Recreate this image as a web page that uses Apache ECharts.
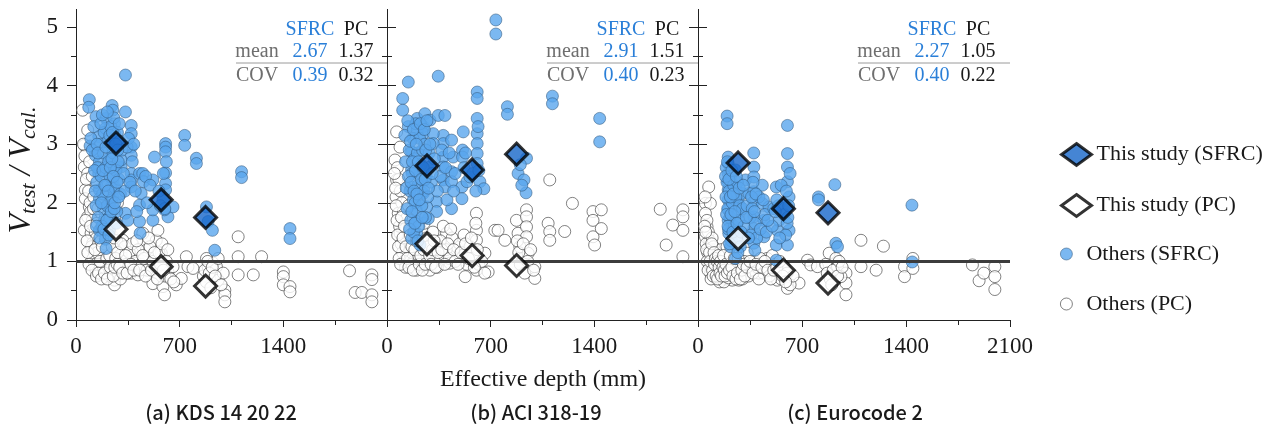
<!DOCTYPE html>
<html>
<head>
<meta charset="utf-8">
<script src="https://cdn.jsdelivr.net/npm/echarts@6/dist/echarts.min.js"></script>
<style>
  html, body { margin: 0; padding: 0; background: #fff; }
  #chart { width: 1277px; height: 436px; }
</style>
</head>
<body>
<div id="chart"></div>
<script>
// effective depth (mm) of this study's specimens
var studyDepth = [270, 575, 875];

// V_test / V_cal. for this study
var kdsStudySFRC = [3.02, 2.05, 1.75];
var kdsStudyPC = [1.55, 0.91, 0.58];
var aciStudySFRC = [2.63, 2.56, 2.83];
var aciStudyPC = [1.30, 1.10, 0.93];
var ecStudySFRC = [2.68, 1.90, 1.83];
var ecStudyPC = [1.39, 0.85, 0.63];

// other researchers' data [depth, ratio]
var kdsOthersSFRC = [
  [90,3.76],[86,3.63],[135,3.47],[154,3.13],[95,2.97],[131,2.81],[158,2.70],[154,2.50],[158,2.22],[158,2.07],
  [185,1.90],[158,1.53],[199,1.38],[203,1.22],[203,3.44],[199,3.27],[244,3.66],[248,3.58],[260,3.35],[260,3.18],
  [244,2.95],[226,2.76],[260,2.61],[248,2.39],[237,2.27],[248,2.10],[230,1.93],[226,1.76],[226,1.53],[192,1.70],
  [334,4.18],[334,3.55],[373,3.32],[373,3.18],[373,2.95],[373,2.81],[373,2.50],[373,2.39],[373,2.27],[334,1.82],
  [350,1.70],[305,2.61],[305,2.73],[429,2.50],[440,2.16],[429,1.96],[429,1.68],[433,1.48],[451,2.50],[456,2.36],
  [519,2.39],[530,2.78],[519,1.70],[519,1.88],[605,3.01],[605,2.95],[605,2.87],[605,2.51],[605,2.33],[605,2.22],
  [587,2.05],[621,1.76],[655,1.93],[598,1.88],[734,3.15],[734,2.98],[813,2.76],[813,2.67],[881,1.93],[892,1.68],
  [921,1.53],[937,1.19],[1118,2.53],[1118,2.43],[1445,1.56],[1445,1.39],
  [140,2.35],[145,2.60],[150,1.75],[165,3.00],[170,2.45],[175,1.60],[180,2.15],[185,2.85],[190,3.20],[200,2.60],
  [205,2.30],[210,1.95],[215,3.05],[220,2.70],[230,2.45],[235,3.30],[240,2.05],[250,2.85],[255,3.45],[265,2.25],
  [270,2.55],[275,1.85],[280,3.20],[285,2.70],[290,2.40],[295,3.05],[300,2.15],[310,2.90],[320,2.50],[330,2.20],
  [345,2.95],[355,3.10],[365,2.35],[380,2.70],[390,3.00],[400,2.20],[410,1.85],[470,2.45],[480,2.00],[500,2.30],
  [560,2.20],[570,1.95],[590,2.50],[600,1.90],[610,2.70],
  [100,3.10],[110,2.90],[120,3.30],[125,2.55],[130,2.20],[135,1.95],[138,1.60],[142,3.00],[148,2.85],[160,1.40],
  [168,3.35],[172,2.00],[178,3.50],[182,2.55],[188,1.55],[195,2.30],[202,2.95],[208,1.70],[212,3.55],[218,2.20],
  [222,1.45],[228,3.15],[232,2.60],[238,1.85],[242,2.75],[246,3.20],[252,2.45],[258,1.90],[262,2.00],[268,3.00],
  [272,1.65],[278,2.35],[282,2.90],[288,2.10],[292,3.35]
];
var kdsOthersPC = [
  [45,3.58],[79,3.24],[56,2.98],[56,2.61],[79,2.50],[63,2.22],[63,2.07],[56,1.53],[79,1.76],[90,1.93],
  [102,1.48],[113,1.31],[124,1.14],[135,1.02],[158,1.48],[158,1.25],[181,1.08],[203,0.91],[237,0.80],[260,0.68],
  [260,0.60],[293,1.02],[316,1.36],[350,0.80],[373,0.80],[384,1.14],[406,0.97],[418,0.77],[451,1.48],[474,1.19],
  [485,0.91],[519,0.62],[542,1.36],[553,1.53],[576,1.14],[587,0.57],[598,0.43],[621,0.82],[655,0.91],[677,0.60],
  [711,0.71],[745,1.08],[756,0.91],[790,0.88],[881,1.05],[892,0.91],[903,0.71],[926,0.97],[948,0.91],[960,0.68],
  [994,0.80],[1005,0.51],[1005,0.43],[1005,0.31],[1095,1.42],[1095,1.08],[1095,0.77],[1197,0.77],[1253,1.08],
  [1400,0.82],[1400,0.74],[1400,0.60],[1445,0.57],[1445,0.48],[1847,0.84],[1885,0.47],[1930,0.47],[1998,0.77],
  [1998,0.69],[1998,0.43],[1998,0.31],
  [70,2.40],[85,2.20],[95,2.00],[100,1.85],[110,1.70],[120,1.60],[130,1.50],[140,1.40],[150,1.30],[160,1.20],
  [170,1.10],[180,1.00],[190,0.95],[200,1.05],[210,1.15],[220,1.25],[230,1.35],[240,1.45],[250,1.60],[260,1.75],
  [270,1.90],[280,2.00],[290,1.20],[300,1.10],[310,0.90],[140,2.30],[150,2.50],[160,2.60],[120,2.10],[110,2.45],
  [105,1.25],[115,1.05],[125,0.95],[135,0.85],[145,1.15],[155,0.95],[165,1.60],[175,1.80],[185,1.45],[195,1.30],
  [205,0.85],[215,1.55],[225,0.75],[240,0.90],[255,1.00],[265,1.20],[275,1.35],[285,0.80],[300,0.70],[320,1.00],
  [330,1.25],[340,0.95],[360,1.15],[380,1.30],[400,1.00],[420,1.20],[440,0.95],[460,1.05],[480,0.85],[500,1.25],
  [520,1.00],[540,0.90],[560,1.15],[580,1.30],[600,0.75],[610,1.00],[620,1.20],[640,0.70],[660,0.65],
  [860,0.75],[870,0.85],[880,0.65],[890,1.00],[900,0.80],[910,0.55],[920,0.90],[940,0.75],[960,1.05],[980,0.60],
  [50,3.00],[60,2.80],[65,1.70],[75,1.35],[80,1.15],[88,0.95],[92,2.70],[98,1.60],[108,0.85],[118,1.90],
  [128,1.20],[138,0.75],[142,1.65],[148,1.90],[152,0.80],[162,1.00],[168,1.35],[172,0.70],[178,1.25],[182,1.60],
  [188,2.00],[192,0.80],[198,1.75],[208,1.05],[212,0.70],[218,1.95],[228,1.10],[232,0.90],[238,1.65],[245,1.25],
  [252,0.75],[258,1.40],[262,0.90],[268,1.05],[278,0.95],[282,1.15],[288,1.55],[295,0.90],[305,1.30],[315,0.80],
  [335,1.10],[345,0.80],[370,0.95],[390,0.85],[410,1.35],[430,0.85],[450,1.10],[470,0.75],[490,1.40],[510,0.85],
  [530,1.15],[550,0.70],[570,0.95],[590,0.85]
];

var aciOthersSFRC = [
  [144,4.06],[106,3.78],[106,3.58],[144,3.30],[204,3.44],[256,3.52],[245,3.30],[204,3.24],[245,3.18],[290,3.41],
  [346,4.16],[346,3.49],[391,3.49],[380,3.15],[380,3.01],[380,2.78],[380,2.61],[380,2.39],[391,2.27],[436,3.07],
  [447,2.78],[436,2.53],[436,2.36],[436,1.90],[335,2.02],[335,1.85],[166,2.87],[166,2.56],[166,2.27],[178,2.05],
  [200,1.88],[200,1.68],[200,1.48],[166,1.39],[223,1.28],[223,2.50],[245,2.36],[245,2.16],[268,1.93],[279,1.73],
  [312,3.18],[312,3.01],[290,2.61],[515,3.21],[510,2.90],[510,2.78],[506,2.27],[506,2.07],[540,2.36],[560,2.44],
  [609,3.89],[609,3.78],[609,3.44],[609,3.18],[609,3.01],[609,2.84],[609,2.67],[627,2.36],[654,2.24],[735,5.12],
  [735,4.88],[813,3.64],[813,3.51],[942,2.76],[885,2.50],[925,2.39],[939,2.17],[1117,3.82],[1117,3.69],[1436,3.44],
  [1436,3.04],
  [150,2.90],[155,2.20],[160,1.70],[170,2.50],[175,3.10],[180,1.50],[185,2.75],[190,2.00],[195,3.35],[205,2.85],
  [210,2.30],[215,1.60],[220,3.10],[230,2.65],[235,1.95],[240,2.90],[250,2.20],[255,3.00],[260,1.75],[265,2.45],
  [275,2.10],[285,2.85],[300,2.35],[320,2.75],[340,2.20],[360,2.45],[370,2.90],[395,2.60],[405,2.05],[420,2.85],
  [450,2.20],[460,2.50],[520,2.60],[530,2.85],[580,2.50],[600,2.20],[615,3.30],[620,2.55],[900,2.65],[910,2.30],
  [120,3.15],[125,2.70],[130,2.25],[135,1.90],[140,3.40],[145,2.45],[152,1.55],[158,3.05],[162,2.35],[168,1.85],
  [172,2.70],[178,3.25],[182,2.20],[188,1.65],[192,2.55],[198,3.00],[202,2.15],[208,1.35],[212,2.70],[218,2.05],
  [225,3.35],[232,2.40],[238,1.75],[245,2.60],[252,3.25],[258,2.40],[262,2.90],[270,3.40],[280,2.25],[290,3.00],
  [305,2.50]
];
var aciOthersPC = [
  [65,3.21],[88,2.95],[54,2.73],[65,2.39],[61,2.10],[76,1.82],[88,1.48],[110,1.25],[133,1.08],[166,0.97],
  [223,0.91],[268,0.97],[312,1.14],[357,1.02],[425,0.97],[402,1.48],[470,1.25],[528,1.14],[528,0.74],[604,1.82],
  [604,1.53],[604,1.36],[604,0.85],[661,1.14],[683,0.82],[728,1.53],[750,1.53],[796,1.36],[874,1.70],[885,1.48],
  [897,1.25],[919,1.05],[942,1.88],[942,1.76],[942,1.59],[942,1.42],[953,1.14],[998,0.71],[998,0.91],[1088,1.65],
  [1099,1.51],[1099,1.36],[1099,2.39],[1200,1.51],[1252,1.99],[1391,1.85],[1391,1.70],[1391,1.42],[1402,1.28],
  [1447,1.88],[1447,1.56],[1845,1.89],[1885,1.28],[1930,1.62],[1998,1.88],[1998,1.76],[1998,1.53],[1998,1.08],
  [70,2.60],[80,2.40],[90,2.20],[100,2.00],[110,1.85],[120,1.70],[130,1.55],[140,1.40],[150,1.30],[160,1.20],
  [170,1.10],[180,1.00],[190,0.90],[200,0.85],[210,1.05],[220,1.20],[230,1.35],[240,1.50],[250,1.65],[260,1.25],
  [270,1.10],[280,0.95],[290,0.85],[300,1.30],[310,1.50],[320,1.00],[330,1.20],[340,0.90],[85,1.60],[95,1.30],
  [105,1.15],[115,1.00],[125,0.90],[135,1.75],[145,1.95],[155,1.60],[165,0.95],[175,1.45],[360,1.35],[380,1.60],
  [400,1.20],[420,1.05],[440,1.40],[460,1.00],[490,1.30],[520,1.45],[540,0.95],[560,1.25],[580,1.05],[600,1.65],
  [610,1.20],[620,0.95],[640,1.00],[660,0.80],[880,1.35],[890,1.15],[900,0.95],[920,1.30],[930,0.80],[950,1.00],
  [970,1.20],[990,0.85],
  [50,2.50],[58,2.25],[62,1.95],[68,1.70],[72,1.45],[78,1.25],[82,1.05],[92,0.95],[98,1.75],[108,1.40],
  [118,1.60],[128,1.25],[138,1.05],[148,0.90],[158,1.45],[168,1.25],[178,0.85],[188,1.20],[198,1.35],[208,1.60],
  [218,0.95],[228,1.10],[238,0.85],[248,1.20],[258,0.95],[268,1.40],[278,1.25],[288,1.10],[298,0.95],[308,1.20],
  [318,1.35],[328,0.90],[345,1.15],[370,1.20],[390,0.95],[410,1.30],[430,1.55],[450,1.20],[480,0.95],[500,1.15],
  [530,1.30],[550,1.05],[570,1.40],[590,0.90]
];

var ecOthersSFRC = [
  [196,3.48],[196,3.35],[203,2.78],[203,2.67],[203,2.50],[203,2.36],[203,2.22],[203,2.05],[203,1.88],[203,1.70],
  [207,1.48],[219,1.25],[252,1.05],[252,2.56],[252,2.27],[241,1.99],[270,2.05],[270,1.82],[297,2.16],[320,2.39],
  [342,2.16],[376,2.61],[376,2.44],[376,2.19],[376,2.02],[376,1.76],[376,1.56],[376,1.31],[383,1.19],[433,2.30],
  [433,1.99],[444,1.70],[444,1.42],[478,1.93],[527,2.27],[534,1.53],[527,1.28],[527,1.02],[545,1.70],[602,3.32],
  [602,2.84],[602,2.61],[602,2.36],[613,2.10],[613,1.53],[602,1.28],[811,2.10],[811,2.05],[921,2.31],[928,1.31],
  [939,1.25],[1440,1.96],[1442,0.99],
  [190,2.60],[195,2.35],[200,1.90],[205,1.55],[210,2.20],[215,1.75],[220,2.45],[225,1.35],[230,2.00],[240,2.30],
  [245,1.60],[255,2.10],[260,1.40],[265,2.35],[275,1.70],[280,1.95],[285,1.25],[300,1.90],[310,1.60],[330,1.95],
  [350,1.75],[355,1.45],[365,1.90],[370,2.35],[385,1.65],[395,1.40],[410,2.10],[420,1.55],[450,1.80],[460,1.50],
  [500,1.60],[510,1.90],[540,1.95],[560,2.30],[580,1.80],[590,1.45],[600,1.65],[610,1.95],[620,2.50],
  [185,2.45],[188,2.10],[192,1.80],[198,2.70],[202,1.60],[208,2.40],[212,1.30],[218,2.10],[222,1.80],[228,2.55],
  [235,1.50],[238,2.15],[248,1.85],[258,2.45],[262,1.65],[268,1.15],[278,2.25],[290,1.50],[305,2.30],[325,1.75],
  [340,1.40],[360,2.10],[375,2.85],[380,1.85],[390,2.15],[440,2.05],[470,1.70],[520,1.85],[530,2.05],[550,1.40],
  [595,2.20],[605,1.75]
];
var ecOthersPC = [
  [72,2.27],[50,1.99],[83,1.99],[50,1.82],[61,1.59],[50,1.42],[72,1.25],[95,1.08],[106,0.91],[117,0.80],
  [140,0.97],[162,0.74],[185,0.85],[230,0.68],[275,0.68],[297,0.85],[331,1.14],[354,0.91],[410,0.80],[433,1.76],
  [466,1.05],[500,0.97],[523,0.80],[534,0.68],[602,0.54],[680,0.63],[737,1.02],[759,0.94],[804,0.91],[883,1.14],
  [928,1.05],[939,0.91],[996,0.80],[996,0.63],[996,0.43],[962,0.74],[1097,1.36],[1097,0.91],[1199,0.85],[1248,1.26],
  [1390,0.91],[1390,0.74],[1446,1.05],[1446,0.88],[1847,0.94],[1892,0.67],[1924,0.80],[1998,0.91],[1998,0.74],
  [1998,0.52],
  [60,1.70],[70,1.50],[80,1.35],[90,1.20],[100,1.10],[110,1.00],[120,0.90],[130,0.85],[140,0.75],[150,0.70],
  [160,0.95],[170,1.05],[180,0.80],[190,0.70],[200,0.90],[210,1.00],[220,0.75],[240,0.95],[250,0.85],[260,1.00],
  [280,0.80],[290,0.95],[300,0.70],[310,1.00],[320,0.85],[340,0.75],[45,1.60],[55,1.30],[65,1.15],[75,0.95],
  [85,0.80],[95,1.40],[105,1.25],[115,0.72],[125,1.15],[135,0.95],[145,0.65],[155,1.20],[165,0.80],[175,0.65],
  [185,1.10],[195,1.25],[205,0.72],[360,0.85],[380,1.00],[400,0.90],[420,1.05],[440,0.80],[460,0.90],[480,0.75],
  [500,1.10],[520,0.95],[540,0.85],[560,0.70],[580,0.90],[600,0.80],[620,0.60],[640,0.75],[860,0.95],[870,0.80],
  [890,0.70],[900,0.60],[910,0.85],[940,0.75],[950,1.00],[970,0.90],
  [48,2.10],[52,1.50],[58,1.20],[62,1.00],[68,0.85],[78,1.15],[82,1.00],[88,0.70],[92,1.30],[98,0.85],
  [102,0.75],[108,1.15],[112,0.95],[118,1.05],[122,0.75],[128,1.00],[132,0.70],[138,1.10],[142,0.90],[148,0.80],
  [152,1.00],[158,0.75],[168,0.90],[172,1.10],[178,0.85],[182,0.75],[188,0.95],[198,0.80],[212,0.85],[218,1.10],
  [228,0.90],[235,0.75],[245,1.05],[255,0.70],[265,0.80],[270,1.05],[285,0.70],[295,0.85],[305,0.95],[315,0.75],
  [330,0.90],[350,1.00],[370,0.80],[390,0.95],[410,0.70],[430,0.90],[450,1.00],[470,0.85],[490,0.70],[510,0.85],
  [530,0.90],[550,1.00],[570,0.75],[590,0.65]
];

// statistics shown in each panel
var statMean = [['2.67', '1.37'], ['2.91', '1.51'], ['2.27', '1.05']];
var statCov = [['0.39', '0.32'], ['0.40', '0.23'], ['0.40', '0.22']];
var captions = ['(a) KDS 14 20 22', '(b) ACI 318-19', '(c) Eurocode 2'];

var xTicks = [0, 700, 1400, 2100];
var yMajor = [0, 1, 2, 3, 4, 5];
var yMinor = [0.5, 1.5, 2.5, 3.5, 4.5];

var studySFRC = [kdsStudySFRC, aciStudySFRC, ecStudySFRC];
var studyPC = [kdsStudyPC, aciStudyPC, ecStudyPC];
var othersSFRC = [kdsOthersSFRC, aciOthersSFRC, ecOthersSFRC];
var othersPC = [kdsOthersPC, aciOthersPC, ecOthersPC];

var serif = 'Liberation Serif';
var blueText = '#2a7fd8';
var panelLeft = [76, 387, 698];
var panelW = [311, 311, 312];

var grids = [], xAxes = [], yAxes = [], series = [], graphics = [];

function pair(xs, ys) {
  var out = [];
  for (var k = 0; k < xs.length; k++) out.push([xs[k], ys[k]]);
  return out;
}

for (var i = 0; i < 3; i++) {
  grids.push({left: panelLeft[i], top: 9.4, width: panelW[i], height: 310.6});
  xAxes.push({
    type: 'value', gridIndex: i, min: 0, max: 2100, interval: 700,
    axisLine: {lineStyle: {color: '#222', width: 1}},
    axisTick: {inside: false, length: 7, lineStyle: {color: '#222'}},
    minorTick: {show: true, splitNumber: 2, length: 5, lineStyle: {color: '#222'}},
    splitLine: {show: false},
    axisLabel: {
      fontFamily: serif, fontSize: 23, color: '#1a1a1a', margin: 15,
      customValues: i === 2 ? xTicks : xTicks.slice(0, 3),
      formatter: function (v) { return String(v); }
    }
  });
  var sides = i < 2 ? ['left', 'right'] : ['left'];
  sides.forEach(function (side) {
    var inside = !(i === 0 && side === 'left');
    // major ticks (with axis line)
    yAxes.push({
      type: 'value', gridIndex: i, position: side, min: 0, max: 5.3,
      axisLine: {show: true, onZero: false, lineStyle: {color: '#222', width: 1}},
      axisTick: {show: true, inside: inside, length: 9, customValues: yMajor, lineStyle: {color: '#222'}},
      axisLabel: {
        show: i === 0 && side === 'left', customValues: yMajor,
        fontFamily: serif, fontSize: 23, color: '#1a1a1a', margin: 18
      },
      splitLine: {show: false}
    });
    // minor ticks
    yAxes.push({
      type: 'value', gridIndex: i, position: side, min: 0, max: 5.3,
      axisLine: {show: false},
      axisTick: {show: true, inside: inside, length: 5, customValues: yMinor, lineStyle: {color: '#222'}},
      axisLabel: {show: false},
      splitLine: {show: false}
    });
  });
  var yIdx = yAxes.length - (i < 2 ? 4 : 2);

  series.push({
    name: 'Others (PC)', type: 'scatter', xAxisIndex: i, yAxisIndex: yIdx,
    data: othersPC[i], symbol: 'circle', symbolSize: 12,
    itemStyle: {color: '#ffffff', borderColor: '#3a3a3a', borderWidth: 0.8}
  });
  series.push({
    name: 'Others (SFRC)', type: 'scatter', xAxisIndex: i, yAxisIndex: yIdx,
    data: othersSFRC[i], symbol: 'circle', symbolSize: 12,
    itemStyle: {color: '#5aa6ee', borderColor: '#33597f', borderWidth: 0.7},
    markLine: {
      silent: true, symbol: 'none', label: {show: false},
      lineStyle: {color: '#3c3c3c', width: 3, type: 'solid'},
      data: [{yAxis: 1}]
    }
  });
  series.push({
    name: 'This study (PC)', type: 'scatter', xAxisIndex: i, yAxisIndex: yIdx, z: 5,
    data: pair(studyDepth, studyPC[i]), symbol: 'diamond', symbolSize: 22,
    itemStyle: {color: '#ffffff', borderColor: '#000', borderWidth: 3}
  });
  series.push({
    name: 'This study (SFRC)', type: 'scatter', xAxisIndex: i, yAxisIndex: yIdx, z: 5,
    data: pair(studyDepth, studySFRC[i]), symbol: 'diamond', symbolSize: 22,
    itemStyle: {color: '#1766c9', borderColor: '#000', borderWidth: 3}
  });

  // statistics table
  var L = panelLeft[i];
  var tx = function (text, x, y, color) {
    graphics.push({
      type: 'text', x: x, y: y,
      style: {text: text, fill: color, font: '20px "Liberation Serif"', align: 'center', verticalAlign: 'middle'}
    });
  };
  tx('SFRC', L + 234, 30, blueText);
  tx('PC', L + 280, 30, '#1a1a1a');
  tx('mean', L + 181, 52, '#6e6e6e');
  tx(statMean[i][0], L + 234, 52, blueText);
  tx(statMean[i][1], L + 280, 52, '#1a1a1a');
  tx('COV', L + 181, 76, '#6e6e6e');
  tx(statCov[i][0], L + 234, 76, blueText);
  tx(statCov[i][1], L + 280, 76, '#1a1a1a');
  graphics.push({
    type: 'line', shape: {x1: L + 160, y1: 63, x2: L + panelW[i], y2: 63},
    style: {stroke: '#9a9a9a', lineWidth: 1}
  });
  graphics.push({
    type: 'text', x: [221, 536, 855][i], y: 412,
    style: {text: captions[i], fill: '#1a1a1a', font: '500 20px "Noto Sans CJK KR"', align: 'center', verticalAlign: 'middle'}
  });
}

graphics.push({
  type: 'text', x: 543, y: 380,
  style: {text: 'Effective depth (mm)', fill: '#1a1a1a', font: '24px "Liberation Serif"', align: 'center', verticalAlign: 'middle'}
});
graphics.push({
  type: 'text', x: 22, y: 170, rotation: Math.PI / 2,
  style: {
    text: '{v|V}{s|test}{v| / V}{s|cal.}',
    align: 'center', verticalAlign: 'middle', fill: '#1a1a1a',
    rich: {
      v: {fontFamily: serif, fontStyle: 'italic', fontSize: 32, lineHeight: 34, fill: '#1a1a1a'},
      s: {fontFamily: serif, fontStyle: 'italic', fontSize: 22, lineHeight: 22, padding: [14, 0, 0, 0], fill: '#1a1a1a'}
    }
  }
});

var legendText = {fontFamily: serif, fontSize: 22, color: '#1a1a1a', lineHeight: 24};

var myChart = echarts.init(document.getElementById('chart'));
var option = {
  animation: false,
  backgroundColor: '#fff',
  grid: grids,
  xAxis: xAxes,
  yAxis: yAxes,
  legend: [{
    orient: 'vertical', left: 1055, top: 137, itemWidth: 30, itemHeight: 22, itemGap: 26,
    selectedMode: false, textStyle: legendText,
    data: [
      {name: 'This study (SFRC)', itemStyle: {color: '#1766c9', borderColor: '#000', borderWidth: 3}},
      {name: 'This study (PC)', itemStyle: {color: '#fff', borderColor: '#000', borderWidth: 3}}
    ]
  }, {
    orient: 'vertical', left: 1055, top: 237, itemWidth: 30, itemHeight: 12, itemGap: 26,
    selectedMode: false, textStyle: legendText,
    data: [
      {name: 'Others (SFRC)', itemStyle: {color: '#5aa6ee', borderColor: '#33597f', borderWidth: 0.7}},
      {name: 'Others (PC)', itemStyle: {color: '#fff', borderColor: '#3a3a3a', borderWidth: 0.8}}
    ]
  }],
  graphic: graphics,
  series: series
};
myChart.setOption(option);
</script>
</body>
</html>
